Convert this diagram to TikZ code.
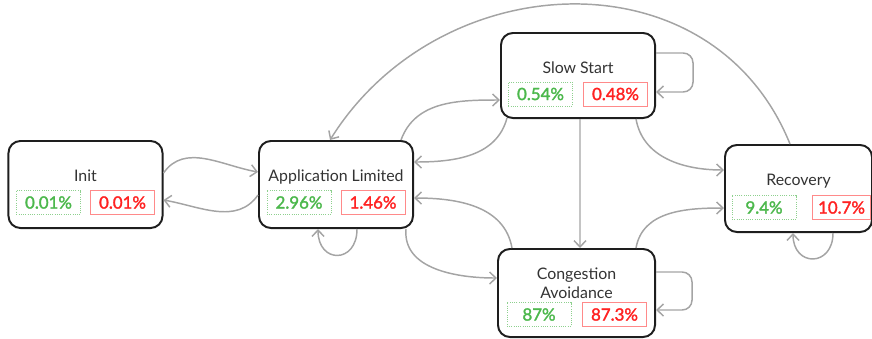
\documentclass[tikz,border=0pt]{standalone}
\usepackage{fontspec}
\setmainfont{Lato}
\newfontfamily\pctfont{Lato}[FakeBold=1.8]
\usetikzlibrary{arrows.meta, calc}
\definecolor{stateBd}{HTML}{1E1E1E}
\definecolor{stateTx}{HTML}{333333}
\definecolor{linkCl}{HTML}{A4A4A4}
\definecolor{goodBd}{HTML}{8ED08E}
\definecolor{goodTx}{HTML}{4CB84C}
\definecolor{badBd}{HTML}{FF8A8A}
\definecolor{badTx}{HTML}{FF2222}

\begin{document}
\begin{tikzpicture}[
  x=0.025cm, y=0.025cm,
  font=\fontsize{11.3}{13.5}\selectfont,
  >={Straight Barb[length=1.6mm, width=3mm]},
  box/.style={draw=stateBd, line width=1.4pt, rounded corners=8.5pt, fill=white,
              inner sep=0pt, minimum width=3.85cm, minimum height=2.175cm},
  lbl/.style={anchor=base, text=stateTx, align=center, inner sep=0pt},
  pct/.style={minimum width=1.6cm, minimum height=0.6cm, inner sep=0pt,
              font=\pctfont\fontsize{12}{14}\selectfont},
  good/.style={pct, draw=goodBd, densely dotted, line width=0.6pt, text=goodTx},
  bad/.style={pct, draw=badBd, line width=0.7pt, text=badTx},
  flow/.style={->, draw=linkCl, line width=1.05pt},
]
\useasboundingbox (0,0) rectangle (872,-338);

% ---------------------------- the states ----------------------------------
\node[box] (init)   at (85.5,-184.5) {};
\node[box] (applim) at (336,-184.5) {};
\node[box, minimum height=2.125cm] (slow) at (578,-75.5) {};
\node[box, minimum width=3.925cm, minimum height=2.2cm] (cong) at (576.5,-293) {};
\node[box, minimum width=3.675cm] (recov) at (798.5,-188.5) {};

% ---------------------------- their names ---------------------------------
\node[lbl] (initL)   at ($(init)+(0,3.5)$)   {Init};
\node[lbl] (applimL) at ($(applim)+(0,3.5)$) {Application Limited};
\node[lbl] (slowL)   at ($(slow)+(0,2.5)$)   {Slow Start};
% the base of a two-line name sits on its last line
\node[lbl] (congL)   at ($(cong)+(0,-5)$)    {Congestion\\Avoidance};
\node[lbl] (recovL)  at ($(recov)+(0,3.5)$)  {Recovery};

% ---------------------------- the two shares ------------------------------
\node[good] (initG)   at ($(init.west)+(41,-18)$)    {0.01\%};
\node[bad]  (initR)   at ($(init.east)+(-41,-18)$)   {0.01\%};
\node[good] (applimG) at ($(applim.west)+(41,-18)$)  {2.96\%};
\node[bad]  (applimR) at ($(applim.east)+(-41,-18)$) {1.46\%};
\node[good] (slowG)   at ($(slow.west)+(40.5,-18.5)$)  {0.54\%};
\node[bad]  (slowR)   at ($(slow.east)+(-40.5,-18.5)$) {0.48\%};
\node[good] (congG)   at ($(cong.west)+(42,-21.5)$)    {87\%};
\node[bad]  (congR)   at ($(cong.east)+(-41.5,-21.5)$) {87.3\%};
\node[good] (recovG)  at ($(recov.west)+(40,-19)$)     {9.4\%};
\node[bad, minimum width=1.45cm] (recovR) at ($(recov.east)+(-31.5,-19)$) {10.7\%};

% ---------------------------- transitions ---------------------------------
\draw[flow] ($(init.east)+(0,11.5)$) to[out=55, in=170] ($(applim.west)+(0,12.5)$);
\draw[flow] ($(applim.west)+(0,-10.5)$) to[out=-125, in=-10] ($(init.east)+(0,-15.5)$);

\draw[flow] ($(applim.north east)+(-13,0)$) to[out=70, in=180] ($(slow.west)+(0,-24.5)$);
\draw[flow] ($(slow.south west)+(7,1)$) to[out=-105, in=0] ($(applim.east)+(0,22.5)$);

\draw[flow] ($(applim.south east)+(-8,0)$) to[out=-95, in=180] ($(cong.west)+(0,15)$);
\draw[flow] ($(cong.north west)+(15,0)$) to[out=100, in=0] ($(applim.east)+(0,-13.5)$);

\draw[flow] ($(slow.south)+(2,0)$) -- ($(cong.north)+(3.5,0)$);

\draw[flow] ($(slow.south east)+(-20,0)$) to[out=-80, in=180] ($(recov.west)+(0,18.5)$);
\draw[flow] ($(cong.north east)+(-20,0)$) to[out=80, in=180] ($(recov.west)+(0,-19.5)$);

% recovery hands back over the top of everything
\draw[flow] ($(recov.north)+(-8.5,0)$) to[out=112, in=58, looseness=1.15] ($(applim.north)+(-6,0)$);

% ---------------------------- self loops ----------------------------------
\draw[flow] ($(applim.south)+(21,0)$) to[out=-90, in=-90, looseness=2.3] ($(applim.south)+(-18,0)$);
\draw[flow] ($(recov.south)+(34.5,0)$) to[out=-90, in=-90, looseness=2.2] ($(recov.south)+(-5.5,0)$);
\draw[flow, rounded corners=7pt] ($(slow.east)+(0,22.5)$) -- ++(37,0) |- ($(slow.east)+(0,-16.5)$);
\draw[flow, rounded corners=7pt] ($(cong.east)+(0,21)$) -- ++(36,0) |- ($(cong.east)+(0,-17)$);

\end{tikzpicture}
\end{document}
